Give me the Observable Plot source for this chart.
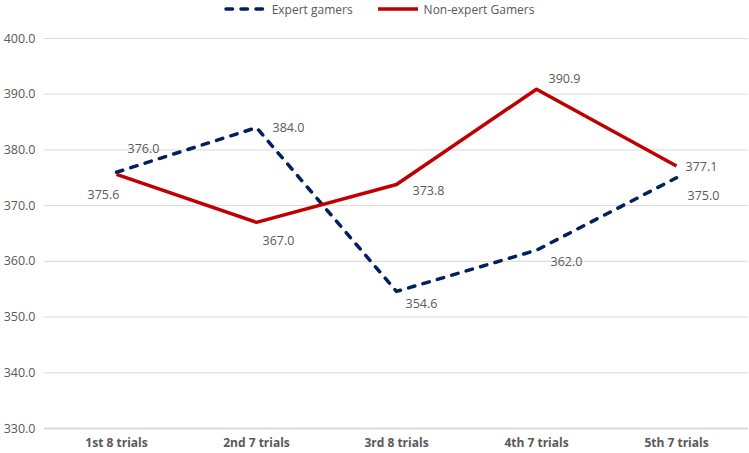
<!DOCTYPE html>
<html>
<head>
<meta charset="utf-8">
<script src="https://cdn.jsdelivr.net/npm/d3@7"></script>
<script src="https://cdn.jsdelivr.net/npm/@observablehq/plot@0.6"></script>
<style>
  html, body { margin: 0; padding: 0; background: #fff; }
  body { width: 749px; height: 453px; overflow: hidden; font-family: "Open Sans", "Liberation Sans", sans-serif; }
  #legend { height: 18px; display: flex; justify-content: center; align-items: center; gap: 22px; font-size: 12px; color: #595959; padding-left: 8px; }
  #legend .item { display: flex; align-items: center; gap: 3px; }
</style>
</head>
<body>
<div id="legend"></div>
<div id="chart"></div>
<script>
const categories = ["1st 8 trials", "2nd 7 trials", "3rd 8 trials", "4th 7 trials", "5th 7 trials"];
const seriesNames = ["Expert gamers", "Non-expert Gamers"];
const expertValues = [376.0, 384.0, 354.6, 362.0, 375.0];
const nonExpertValues = [375.6, 367.0, 373.8, 390.9, 377.1];
const yTicks = [330, 340, 350, 360, 370, 380, 390, 400];

const colors = {"Expert gamers": "#002060", "Non-expert Gamers": "#C00000"};
const dashes = {"Expert gamers": "6.5,8.5", "Non-expert Gamers": null};

const rows = [];
categories.forEach((c, i) => {
  rows.push({series: seriesNames[0], cat: c, value: expertValues[i], idx: i});
  rows.push({series: seriesNames[1], cat: c, value: nonExpertValues[i], idx: i});
});

// label offsets (styling)
const labelOffsets = {
  "Expert gamers": [[27, -23], [32, 0], [25, 13], [30, 12], [27, 18]],
  "Non-expert Gamers": [[-13, 21], [22, 19], [32, 7], [28, -10], [25, 1]]
};

const lineMarks = seriesNames.map(s => Plot.line(rows.filter(r => r.series === s), {
  x: "cat", y: "value",
  stroke: colors[s], strokeWidth: 3.5,
  strokeDasharray: dashes[s] || undefined,
  strokeLinecap: dashes[s] ? "round" : "butt",
  strokeLinejoin: "round"
}));

const labelMarks = [];
seriesNames.forEach(s => {
  rows.filter(r => r.series === s).forEach(r => {
    const [dx, dy] = labelOffsets[s][r.idx];
    labelMarks.push(Plot.text([r], {
      x: "cat", y: "value", text: d => d.value.toFixed(1),
      dx, dy, fill: "#595959", fontSize: 12.5
    }));
  });
});

const chart = Plot.plot({
  width: 749,
  height: 435,
  marginTop: 20,
  marginBottom: 25,
  marginLeft: 44,
  marginRight: 1,
  style: {fontFamily: "'Open Sans', 'Liberation Sans', sans-serif", fontSize: "12px", color: "#595959", background: "#fff"},
  x: {domain: categories, type: "band", padding: 0, label: null, tickSize: 0, tickPadding: 10},
  y: {domain: [330, 400], ticks: yTicks, label: null, tickSize: 0, tickPadding: 9, tickFormat: d => d.toFixed(1)},
  marks: [
    Plot.gridY(yTicks.filter(t => t !== 330), {stroke: "#d9d9d9", strokeOpacity: 1, strokeWidth: 1, x1: undefined}),
    Plot.ruleY([330], {stroke: "#d9d9d9", strokeWidth: 2}),
    Plot.axisY({ticks: yTicks, tickSize: 0, tickPadding: 9, tickFormat: d => d.toFixed(1), label: null, fontSize: 12.5}),
    Plot.axisX({tickSize: 0, tickPadding: 10, label: null, fontWeight: "bold", fontSize: 12}),
    ...lineMarks,
    ...labelMarks
  ]
});
// extend gridlines slightly left
document.getElementById("chart").appendChild(chart);

// legend
const legend = document.getElementById("legend");
seriesNames.forEach(s => {
  const item = document.createElement("div");
  item.className = "item";
  const ns = "http://www.w3.org/2000/svg";
  const sw = document.createElementNS(ns, "svg");
  sw.setAttribute("width", 46); sw.setAttribute("height", 10);
  const ln = document.createElementNS(ns, "line");
  ln.setAttribute("x1", 3); ln.setAttribute("x2", 43);
  ln.setAttribute("y1", 5); ln.setAttribute("y2", 5);
  ln.setAttribute("stroke", colors[s]); ln.setAttribute("stroke-width", 3.5);
  if (dashes[s]) { ln.setAttribute("stroke-dasharray", "6.5,8.5"); ln.setAttribute("stroke-linecap", "round"); }
  sw.appendChild(ln);
  item.appendChild(sw);
  const t = document.createElement("span");
  t.textContent = s;
  item.appendChild(t);
  legend.appendChild(item);
});
</script>
</body>
</html>
